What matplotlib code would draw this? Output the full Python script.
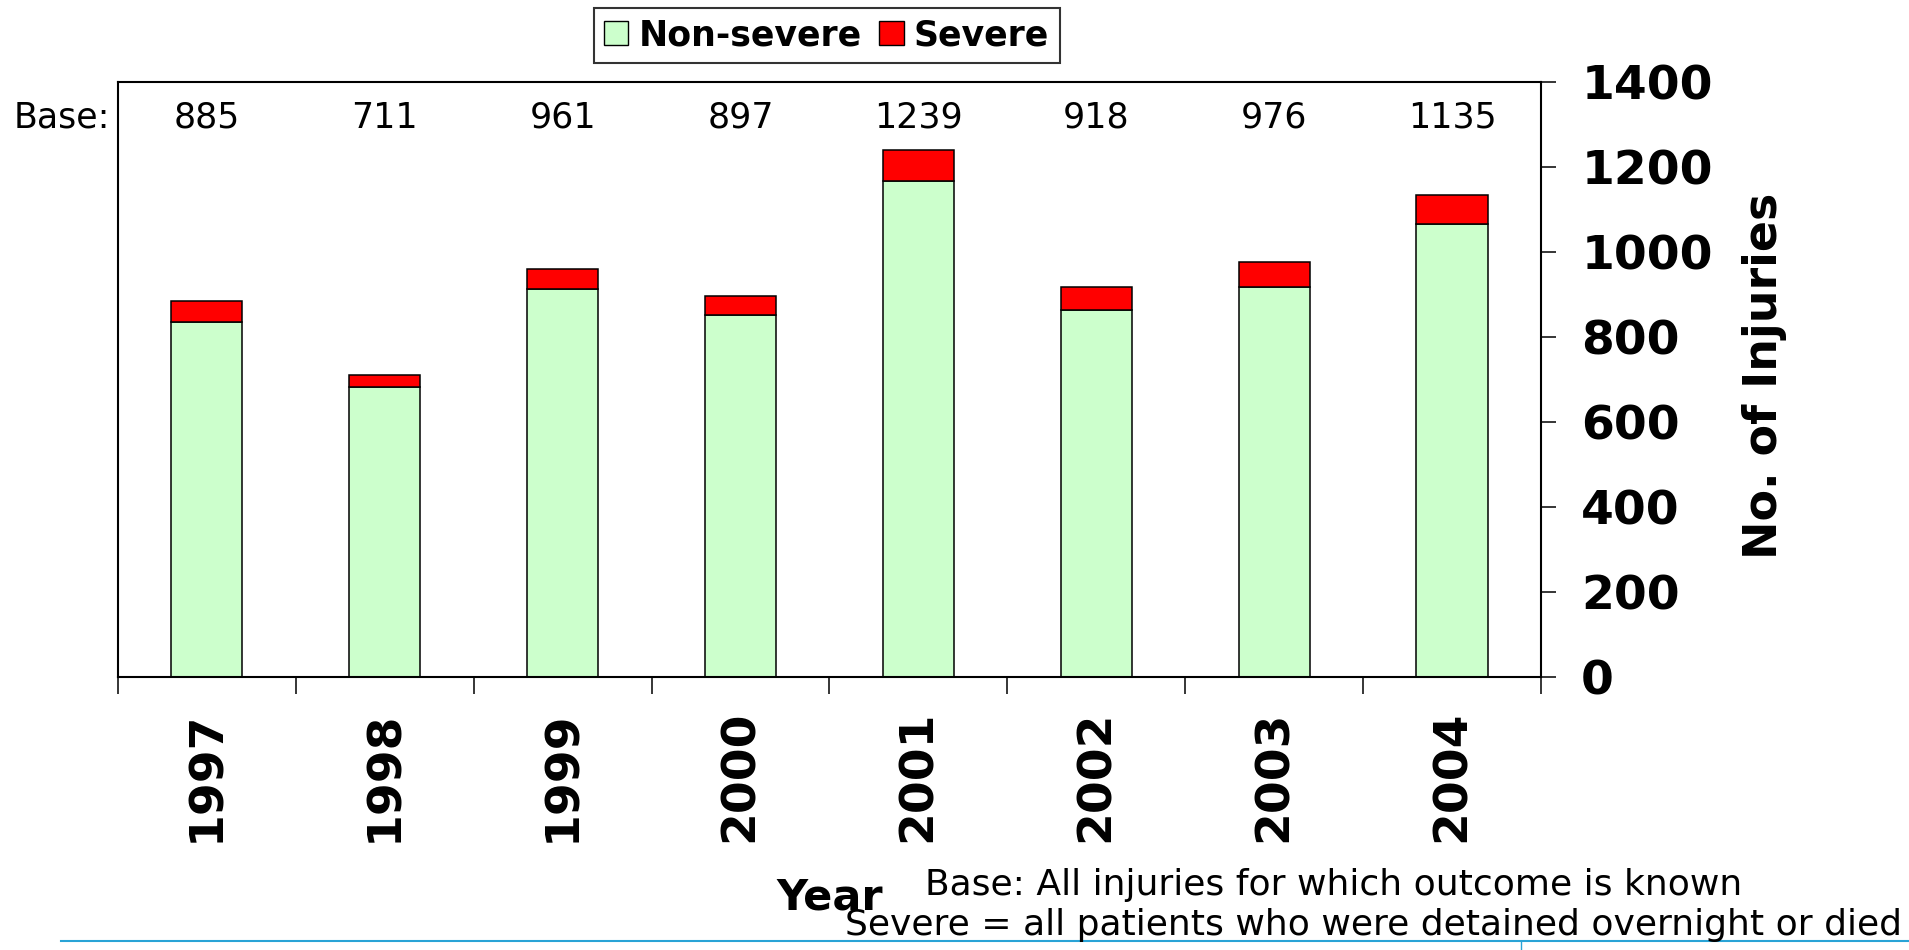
import matplotlib.pyplot as plt
from matplotlib.patches import Patch
from matplotlib.lines import Line2D

# Data
years = ["1997", "1998", "1999", "2000", "2001", "2002", "2003", "2004"]
base_totals = [885, 711, 961, 897, 1239, 918, 976, 1135]
non_severe = [835, 683, 914, 851, 1166, 864, 917, 1067]
severe = [50, 28, 47, 46, 73, 54, 59, 68]

green = "#CCFFCC"
red = "#FF0000"

fig = plt.figure(figsize=(19.09, 9.5), dpi=100)
ax = fig.add_axes([0.0618, 0.2874, 0.7454, 0.6263])

x = list(range(len(years)))
ax.bar(x, non_severe, width=0.4, color=green, edgecolor="black", linewidth=1.1)
ax.bar(x, severe, width=0.4, bottom=non_severe, color=red, edgecolor="black", linewidth=1.1)

ax.set_xlim(-0.5, len(years) - 0.5)
ax.set_ylim(0, 1400)

# y axis on the right
ax.yaxis.tick_right()
ax.yaxis.set_label_position("right")
ax.set_yticks(range(0, 1401, 200))
ax.tick_params(axis="y", which="major", direction="out", length=11, width=1.1,
               pad=18, labelsize=34)
for lab in ax.get_yticklabels():
    lab.set_fontweight("bold")

# x ticks: marks at category boundaries, labels at centers
ax.set_xticks(x)
ax.set_xticklabels(years, rotation=90, fontsize=34, fontweight="bold")
ax.set_xticks([i - 0.5 for i in range(len(years) + 1)], minor=True)
ax.tick_params(axis="x", which="major", length=0, pad=24)
ax.tick_params(axis="x", which="minor", direction="out", length=12, width=1.1)

for s in ax.spines.values():
    s.set_linewidth(1.5)
    s.set_color("black")

ax.set_ylabel("No. of Injuries", fontsize=33, fontweight="bold")
ax.yaxis.set_label_coords(1.157, 0.506)
ax.yaxis.label.set_rotation(90)
ax.yaxis.label.set_horizontalalignment("center")
ax.yaxis.label.set_verticalalignment("center")

ax.set_xlabel("Year", fontsize=31, fontweight="bold")
ax.xaxis.set_label_coords(0.5, -0.37)
ax.xaxis.label.set_verticalalignment("center")

# base row
for xi, b in zip(x, base_totals):
    ax.text(xi, 1292, str(b), ha="center", va="baseline", fontsize=25)
ax.text(-0.545, 1292, "Base:", ha="right", va="baseline", fontsize=25, clip_on=False)

# legend
handles = [Patch(facecolor=green, edgecolor="black", label="Non-severe"),
           Patch(facecolor=red, edgecolor="black", label="Severe")]
leg = fig.legend(handles=handles, loc="center", bbox_to_anchor=(0.433, 0.963), ncol=2,
                 frameon=True, fancybox=False, edgecolor="black",
                 prop={"weight": "bold", "size": 25}, handlelength=0.7, handleheight=0.7,
                 handletextpad=0.3, columnspacing=0.5, borderpad=0.3, borderaxespad=0)
leg.get_frame().set_linewidth(1.5)

# footnotes
fig.text(0.4845, 0.058, "Base: All injuries for which outcome is known",
         ha="left", va="baseline", fontsize=26)
fig.text(0.9963, 0.0158, "Severe = all patients who were detained overnight or died",
         ha="right", va="baseline", fontsize=26)

# slide decoration line
fig.add_artist(Line2D([0.032, 1.0], [0.0095, 0.0095], color="#29A3D6", linewidth=1.5))
fig.add_artist(Line2D([0.797, 0.797], [0.0, 0.0095], color="#29A3D6", linewidth=1.0))

fig.savefig("out.png", dpi=100)
